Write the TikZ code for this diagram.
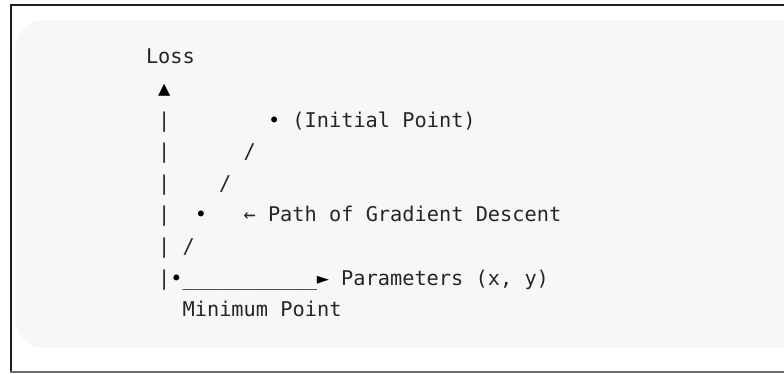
\documentclass[tikz,border=0pt]{standalone}
\usepackage{fontspec}
\newfontfamily\codefont{DejaVu Sans Mono}
\definecolor{codetext}{HTML}{262626}
\definecolor{codebg}{HTML}{F7F7F7}
\definecolor{frametop}{HTML}{1E1E1E}
\definecolor{framebot}{HTML}{6E6E6E}

\tikzset{
  glyph/.style={anchor=base west, inner sep=0pt, outer sep=0pt,
    font=\codefont\fontsize{20.3}{24}\selectfont, text=codetext},
  mark glyph/.style={glyph, text=black},
}

% place a piece of the code listing at a character cell (column, row)
\newcommand\cellat[4]{%
  \node[glyph] (#1) at ({146+#2*12.2},{64+#3*31.6}) {#4};}
\newcommand\markat[4]{%
  \node[mark glyph] (#1) at ({146+#2*12.2},{64+#3*31.6}) {#4};}

\begin{document}
\begin{tikzpicture}[x=1pt,y=-1pt]
  \useasboundingbox (0,0) rectangle (784,374);
  \fill[white] (0,0) rectangle (784,374);

  % page frame
  \draw[frametop, line width=1.5pt] (11,5) -- (790,5);
  \draw[frametop, line width=1.5pt] (11,4.25) -- (11,372.5);
  \draw[framebot, line width=1.5pt] (10.25,372) -- (790,372);

  % code block background
  \fill[codebg, rounded corners=30pt] (15,20) rectangle (830,348);

  % y axis
  \cellat{loss}{0}{0}{Loss}
  \markat{uptip}{1}{1}{▲}
  \cellat{bar2}{1}{2}{|}
  \cellat{bar3}{1}{3}{|}
  \cellat{bar4}{1}{4}{|}
  \cellat{bar5}{1}{5}{|}
  \cellat{bar6}{1}{6}{|}
  \cellat{bar7}{1}{7}{|}

  % descent path
  \markat{initpt}{10}{2}{•}
  \cellat{initlbl}{12}{2}{(Initial Point)}
  \cellat{step3}{8}{3}{/}
  \cellat{step4}{6}{4}{/}
  \markat{midpt}{4}{5}{•}
  \cellat{pathptr}{8}{5}{←}
  \cellat{pathlbl}{10}{5}{Path of Gradient Descent}
  \cellat{step6}{3}{6}{/}
  \markat{minpt}{2}{7}{•}

  % x axis
  \cellat{xline}{3}{7}{\_\_\_\_\_\_\_\_\_\_\_}
  \markat{righttip}{14}{7}{►}
  \cellat{xlbl}{16}{7}{Parameters (x, y)}
  \cellat{minlbl}{3}{8}{Minimum Point}
\end{tikzpicture}
\end{document}
